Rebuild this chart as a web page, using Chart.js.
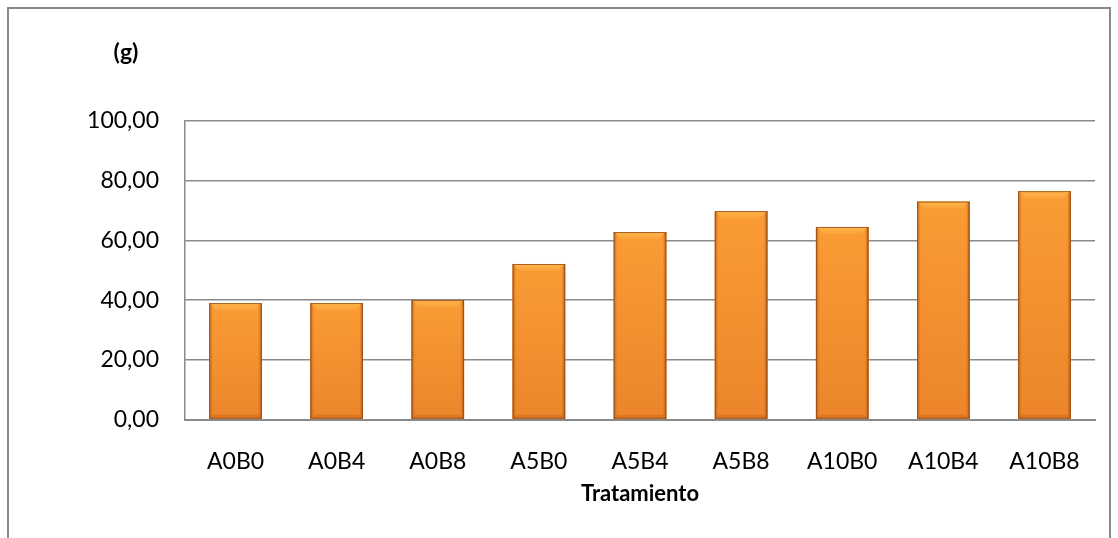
<!DOCTYPE html>
<html>
<head>
<meta charset="utf-8">
<script src="https://cdn.jsdelivr.net/npm/chart.js@4"></script>
<style>
  html, body { margin: 0; padding: 0; background: #fff; }
  #wrap { position: relative; width: 1118px; height: 538px; overflow: hidden; }
  #frame { position: absolute; left: 7px; top: 7px; width: 1104px; height: 600px; border: 2px solid #8a8a8a; box-sizing: border-box; }
  canvas { position: absolute; left: 0; top: 0; }
</style>
</head>
<body>
<div id="wrap">
  <div id="frame"></div>
  <canvas id="c" width="1118" height="538"></canvas>
</div>
<script>
const categories = ["A0B0", "A0B4", "A0B8", "A5B0", "A5B4", "A5B8", "A10B0", "A10B4", "A10B8"];
const pesos = [39.0, 39.0, 40.0, 52.1, 62.8, 69.8, 64.5, 73.0, 76.5];
const yTicks = [0, 20, 40, 60, 80, 100];

const fontFam = "Lato, 'Open Sans', sans-serif";

// bevel look of the bars (Excel style)
const bevelPlugin = {
  id: "bevel",
  afterDatasetsDraw(chart) {
    const ctx = chart.ctx;
    chart.getDatasetMeta(0).data.forEach((bar) => {
      const l = bar.x - bar.width / 2;
      const r = bar.x + bar.width / 2;
      const t = bar.y;
      const b = bar.base;
      ctx.save();
      // body gradient
      const g = ctx.createLinearGradient(0, t, 0, b);
      g.addColorStop(0, "#FA9C35");
      g.addColorStop(1, "#EC852B");
      ctx.fillStyle = g;
      ctx.fillRect(l, t, r - l, b - t);
      // side shading
      const h = ctx.createLinearGradient(l, 0, r, 0);
      h.addColorStop(0, "rgba(160,75,15,0.55)");
      h.addColorStop(0.07, "rgba(160,75,15,0.0)");
      h.addColorStop(0.93, "rgba(160,75,15,0.0)");
      h.addColorStop(1, "rgba(140,65,10,0.6)");
      ctx.fillStyle = h;
      ctx.fillRect(l, t, r - l, b - t);
      // top bevel
      const s = 7;
      const tg = ctx.createLinearGradient(0, t, 0, t + s);
      tg.addColorStop(0, "#FDB64C");
      tg.addColorStop(1, "#FBA23A");
      ctx.fillStyle = tg;
      ctx.beginPath();
      ctx.moveTo(l + 1, t); ctx.lineTo(r - 1, t); ctx.lineTo(r - s, t + s); ctx.lineTo(l + s, t + s);
      ctx.closePath(); ctx.fill();
      // bottom bevel
      ctx.fillStyle = "rgba(185,90,20,0.35)";
      ctx.beginPath();
      ctx.moveTo(l, b); ctx.lineTo(r, b); ctx.lineTo(r - 4, b - 4); ctx.lineTo(l + 4, b - 4);
      ctx.closePath(); ctx.fill();
      ctx.strokeStyle = "rgba(140,70,20,0.75)";
      ctx.lineWidth = 1;
      ctx.strokeRect(l + 0.5, t + 0.5, r - l - 1, b - t - 1);
      ctx.restore();
    });
  },
};

// "(g)" label above the value axis
const unitPlugin = {
  id: "unit",
  afterDraw(chart) {
    const ctx = chart.ctx;
    ctx.save();
    ctx.font = "bold 23px " + fontFam;
    ctx.fillStyle = "#000";
    ctx.textAlign = "center";
    ctx.textBaseline = "middle";
    ctx.fillText("(g)", 126, 53);
    ctx.restore();
  },
};

new Chart(document.getElementById("c"), {
  type: "bar",
  data: {
    labels: categories,
    datasets: [{
      label: "Peso",
      data: pesos,
      backgroundColor: "#F39130",
      borderWidth: 0,
      categoryPercentage: 1,
      barPercentage: 0.52,
    }],
  },
  options: {
    responsive: false,
    animation: false,
    layout: { padding: { top: 121, right: 23, left: 0, bottom: 0 } },
    plugins: {
      legend: { display: false },
      tooltip: { enabled: false },
    },
    scales: {
      x: {
        grid: { display: false, drawTicks: false },
        border: { color: "#8a8a8a", width: 2 },
        ticks: { color: "#000", font: { family: fontFam, size: 23 }, padding: 28 },
        title: {
          display: true,
          text: "Tratamiento",
          color: "#000",
          font: { family: fontFam, size: 22, weight: "bold" },
          padding: { top: 4, bottom: 31 },
        },
        afterFit(scale) { scale.height = 118.5; },
      },
      y: {
        min: 0,
        max: 100,
        afterBuildTicks(scale) { scale.ticks = yTicks.map((v) => ({ value: v })); },
        grid: { color: "#8a8a8a", lineWidth: 1.5, drawTicks: false },
        border: { color: "#8a8a8a", width: 1.5 },
        ticks: {
          color: "#000",
          font: { family: fontFam, size: 23 },
          padding: 26,
          callback: (v) => v.toFixed(2).replace(".", ","),
        },
        afterFit(scale) { scale.width = 185; },
      },
    },
  },
  plugins: [bevelPlugin, unitPlugin],
});
</script>
</body>
</html>
